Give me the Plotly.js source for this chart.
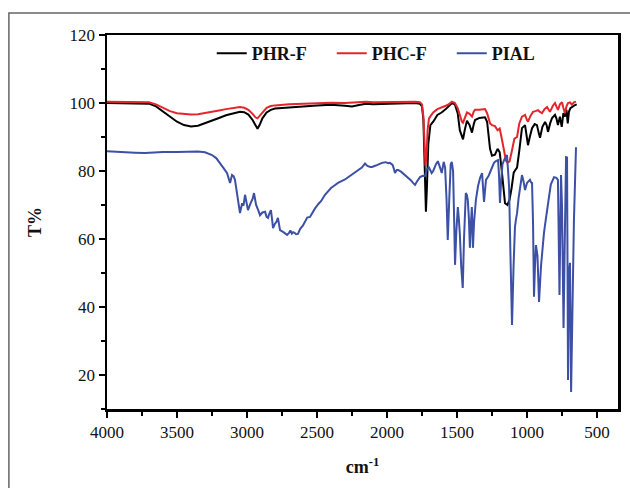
<!DOCTYPE html>
<html>
<head>
<meta charset="utf-8">
<script src="https://cdn.plot.ly/plotly-3.0.1.min.js"></script>
<style>html,body{margin:0;padding:0;background:#fff;}#chart{width:630px;height:488px;}</style>
</head>
<body>
<div id="chart"></div>
<script>
// PHR-F (black)
const phrX = [4000,3800,3700,3650,3600,3550,3500,3450,3400,3350,3300,3250,3200,3150,3100,3050,3020,2990,2960,2940,2925,2910,2890,2860,2830,2800,2700,2600,2500,2400,2300,2250,2200,2150,2100,2000,1900,1800,1765,1750,1740,1730,1722,1715,1705,1690,1670,1640,1610,1580,1560,1536,1515,1495,1480,1465,1457,1445,1429,1410,1393,1380,1371,1340,1300,1285,1264,1250,1229,1210,1195,1180,1165,1157,1140,1125,1110,1095,1080,1071,1055,1036,1014,1000,993,980,964,945,929,915,907,890,871,860,850,835,821,800,790,779,765,752,740,729,718,709,700,690,675,657,645];
const phrY = [100,100,99.8,99,97.5,95.8,94.5,93.5,93.1,93.3,94.0,94.8,95.6,96.4,97.0,97.4,97.3,96.6,95.0,93.3,92.4,93.5,95.5,97.2,98.0,98.4,98.8,99.0,99.3,99.5,99.2,99.0,99.4,99.8,99.6,99.8,100,100,99.8,99.0,95,82,68,75,88,93.5,94.5,96.5,97.2,98.2,99,100,99.6,97,92,89.8,89.3,92,94.8,93.5,91.3,93.8,95,95.6,95.8,94.5,86.5,84.5,84.8,86.5,85.5,80,74,70.5,70.0,71.5,75,79.5,80.5,81,86,92.6,93.5,90,87.6,90,92.6,93.8,93.5,91,89.8,93,94.4,93.5,91.5,94,95.6,96.5,95.5,93.5,96,93,97,96,98,94,97.5,98.5,99,99.4,99.6];
// PHC-F (red)
const phcX = [4000,3800,3700,3650,3600,3550,3500,3450,3400,3350,3300,3250,3200,3150,3100,3050,3020,2990,2960,2940,2925,2910,2890,2860,2830,2800,2700,2600,2500,2400,2300,2200,2150,2100,2000,1900,1800,1765,1750,1740,1730,1725,1718,1710,1700,1690,1670,1640,1610,1580,1560,1536,1515,1495,1480,1465,1457,1445,1429,1410,1393,1380,1371,1340,1300,1285,1264,1250,1229,1210,1195,1180,1165,1150,1140,1125,1110,1090,1071,1055,1036,1014,1000,993,975,957,940,921,905,893,875,857,845,836,815,800,790,779,765,750,740,729,718,707,693,679,665,650];
const phcY = [100.4,100.4,100.2,99.6,98.6,97.6,97.0,96.7,96.6,96.7,97.0,97.4,97.8,98.2,98.6,98.8,98.6,98.0,96.8,95.8,95.5,96.2,97.4,98.6,99.1,99.3,99.6,99.8,100,100.1,100,100.2,100.4,100.2,100.3,100.4,100.4,100.2,99.6,96,88,81.5,84,92,95.5,96.2,97.2,98.2,98.6,99.2,99.6,100.4,100,98.5,96.5,94.5,94.2,95.8,97.2,96.8,96,97.5,98,98,98.2,97,94,93.5,93.2,92,92.5,89.5,86,83,82.5,82.8,85.5,89.5,90,94,96,96.5,95,94.5,96.2,97.4,97.6,97.9,97.3,97,98.2,98.8,98,97.4,99.2,100,99,98,99.6,100.2,98.5,97,99,100,100.2,99.5,100.2,100.4];
// PIAL (blue)
const pialX = [4000,3964,3900,3850,3800,3729,3700,3650,3600,3500,3400,3350,3300,3250,3220,3193,3170,3143,3130,3121,3107,3095,3086,3070,3050,3035,3025,3014,3005,2993,2975,2960,2950,2935,2920,2907,2890,2871,2860,2850,2840,2829,2820,2814,2800,2790,2779,2770,2764,2740,2720,2714,2700,2690,2680,2671,2660,2650,2636,2620,2600,2586,2570,2550,2530,2514,2490,2470,2443,2420,2400,2380,2350,2300,2260,2229,2200,2180,2157,2140,2120,2107,2080,2050,2036,2010,1990,1979,1960,1950,1943,1930,1921,1900,1871,1850,1830,1814,1800,1785,1764,1745,1729,1715,1700,1681,1670,1650,1637,1625,1609,1595,1585,1575,1566,1555,1545,1537,1528,1520,1514,1505,1494,1487,1480,1470,1459,1450,1437,1430,1423,1415,1408,1400,1394,1390,1386,1378,1365,1350,1335,1321,1307,1293,1275,1260,1236,1220,1207,1200,1193,1185,1175,1164,1150,1143,1135,1128,1118,1107,1096,1086,1078,1071,1060,1050,1036,1025,1014,1000,990,979,970,964,957,950,943,936,925,914,900,890,879,865,850,830,807,790,779,774,768,763,757,750,739,730,721,714,707,700,693,685,678,665,650];
const pialY = [85.8,85.7,85.6,85.5,85.4,85.3,85.4,85.5,85.6,85.6,85.7,85.7,85.5,84.7,83.8,82.4,81,79.4,78,76.5,78.8,78.4,77.4,73,67.6,70.5,69.8,73,70.5,68.5,70.5,71.8,73.5,70,68.5,67,67.8,68,66.5,66.2,67.5,68.5,65.5,63.2,64.5,65,66.2,64,62.6,62,61.5,61.2,61.8,62.5,61.6,62,61.8,61.4,61.5,63,64,65,66.3,66.5,68,69,70.3,71.2,73,74.2,75,75.6,76.5,77.5,78.6,79.4,80.3,81,82.2,81.5,81.2,81.2,81.6,82.2,82.4,82.6,82.3,82.4,81.8,80.5,79.4,80.3,80.3,79.8,78.8,78.2,77.3,76.5,75.9,77,78.2,78.6,78.5,80.5,81,79.4,80,82,82.9,81.5,79.4,82.7,81,72,59.7,72,82,82.7,80,65,52.4,62,69.4,66,61.7,52,45.6,60,73.5,73,71.5,66,57.4,65,69.4,64,57.4,65,71.5,75.5,78,79.4,70.9,77.4,78.5,80,82.4,83,83.2,79,70.6,77,82,83.2,84.2,84.7,80,75.3,55,34.7,52,63.5,66,67.6,72,75.3,78.8,77,74.4,76.5,77,77.4,76.6,76.5,65,43,52,58.2,55,41.5,52,57,61.7,66,70.6,76,78.2,78,77.4,65,43.5,60,78.8,70,33.8,60,84.1,84,18.5,50,53,15,35,65,87];

const serif = "Liberation Serif, Times New Roman, serif";
const traces = [
  {x: phrX, y: phrY, name: 'PHR-F', type: 'scatter', mode: 'lines', line: {color: '#000000', width: 2}},
  {x: phcX, y: phcY, name: 'PHC-F', type: 'scatter', mode: 'lines', line: {color: '#e3262b', width: 2}},
  {x: pialX, y: pialY, name: 'PIAL', type: 'scatter', mode: 'lines', line: {color: '#3c50a6', width: 2}}
];
const layout = {
  width: 630, height: 488,
  margin: {l: 107, r: 12, t: 35, b: 79},
  paper_bgcolor: '#ffffff', plot_bgcolor: '#ffffff',
  font: {family: serif, size: 16, color: '#111'},
  showlegend: true,
  legend: {orientation: 'h', x: 0.205, xanchor: 'left', y: 1.0, yanchor: 'top',
           font: {family: serif, size: 18, weight: 'bold', color: '#111'},
           bgcolor: 'rgba(0,0,0,0)', entrywidth: 75, entrywidthmode: 'pixels'},
  xaxis: {range: [4000, 350], showline: true, mirror: true, linecolor: '#000', linewidth: 2.5,
          showgrid: false, zeroline: false, ticks: 'outside', ticklen: 6, tickwidth: 1.5, tickcolor: '#000',
          tickvals: [4000,3500,3000,2500,2000,1500,1000,500],
          minor: {tickvals: [3750,3250,2750,2250,1750,1250,750], ticks: 'outside', ticklen: 4, tickwidth: 1.5, tickcolor: '#000'},
          tickfont: {family: serif, size: 17, color: '#111'},
          title: {text: 'cm<sup>-1</sup>', font: {family: serif, size: 18, weight: 'bold', color: '#111'}, standoff: 20}},
  yaxis: {range: [10, 120], showline: true, mirror: true, linecolor: '#000', linewidth: 2.5,
          showgrid: false, zeroline: false, ticks: 'outside', ticklen: 6, tickwidth: 1.5, tickcolor: '#000',
          tickvals: [20,40,60,80,100,120],
          minor: {tickvals: [10,30,50,70,90,110], ticks: 'outside', ticklen: 4, tickwidth: 1.5, tickcolor: '#000'},
          tickfont: {family: serif, size: 17, color: '#111'},
          title: {text: 'T%', font: {family: serif, size: 18, weight: 'bold', color: '#111'}, standoff: 24}},
  shapes: [{type: 'rect', xref: 'paper', yref: 'paper', x0: -0.192, x1: 1.1, y0: -0.4, y1: 1.059,
            line: {color: '#666', width: 1.5}, fillcolor: 'rgba(0,0,0,0)', layer: 'below'}]
};
Plotly.newPlot('chart', traces, layout, {displayModeBar: false, staticPlot: true});
</script>
</body>
</html>
